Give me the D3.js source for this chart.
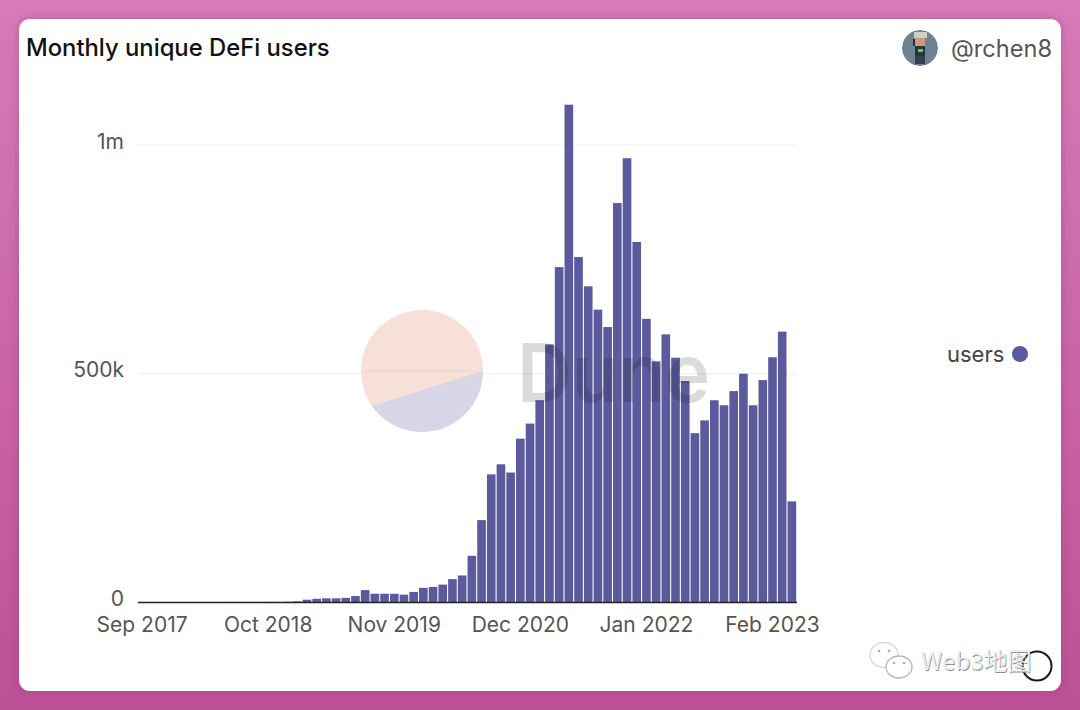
<!DOCTYPE html>
<html>
<head>
<meta charset="utf-8">
<script src="https://d3js.org/d3.v7.min.js"></script>
<style>
  body { margin: 0; background: #c9669f; }
  svg { display: block; }
  text { font-family: "Inter", "Noto Sans", sans-serif; }
</style>
</head>
<body>
<svg id="chart" width="1080" height="710"></svg>
<script>
    var months = [
        "Sep 2017", "Oct 2017", "Nov 2017", "Dec 2017",
        "Jan 2018", "Feb 2018", "Mar 2018", "Apr 2018", "May 2018", "Jun 2018",
        "Jul 2018", "Aug 2018", "Sep 2018", "Oct 2018", "Nov 2018", "Dec 2018",
        "Jan 2019", "Feb 2019", "Mar 2019", "Apr 2019", "May 2019", "Jun 2019",
        "Jul 2019", "Aug 2019", "Sep 2019", "Oct 2019", "Nov 2019", "Dec 2019",
        "Jan 2020", "Feb 2020", "Mar 2020", "Apr 2020", "May 2020", "Jun 2020",
        "Jul 2020", "Aug 2020", "Sep 2020", "Oct 2020", "Nov 2020", "Dec 2020",
        "Jan 2021", "Feb 2021", "Mar 2021", "Apr 2021", "May 2021", "Jun 2021",
        "Jul 2021", "Aug 2021", "Sep 2021", "Oct 2021", "Nov 2021", "Dec 2021",
        "Jan 2022", "Feb 2022", "Mar 2022", "Apr 2022", "May 2022", "Jun 2022",
        "Jul 2022", "Aug 2022", "Sep 2022", "Oct 2022", "Nov 2022", "Dec 2022",
        "Jan 2023", "Feb 2023", "Mar 2023", "Apr 2023"
    ];

    var users = [
        100, 100, 100, 100, 100, 100, 100, 100, 100, 200,
        200, 200, 200, 300, 300, 500, 1500, 5000, 7000, 8000,
        8000, 9000, 13000, 26000, 18000, 18000, 18000, 16000, 22000, 31000,
        33000, 38000, 50000, 58000, 101000, 179000, 279000, 301000, 283000, 357000,
        390000, 441000, 563000, 732000, 1087000, 754000, 690000, 639000, 601000, 872000,
        970000, 787000, 619000, 526000, 585000, 534000, 483000, 369000, 397000, 441000,
        430000, 461000, 499000, 430000, 485000, 535000, 591000, 220000
    ];

    var xTickLabels = ["Sep 2017", "Oct 2018", "Nov 2019", "Dec 2020", "Jan 2022", "Feb 2023"];
    var yTicks = [0, 500000, 1000000];
    var yTickLabels = ["0", "500k", "1m"];

    var title = "Monthly unique DeFi users";
    var author = "@rchen8";
    var seriesName = "users";
    var barColor = "#5b5a9d";
    var textColor = "#555555";

    var svg = d3.select("#chart");
    var defs = svg.append("defs");

    var bg = defs.append("linearGradient").attr("id", "bg")
        .attr("x1", 0).attr("y1", 0).attr("x2", 0).attr("y2", 1);
    bg.append("stop").attr("offset", "0%").attr("stop-color", "#d67bb7");
    bg.append("stop").attr("offset", "100%").attr("stop-color", "#bd5196");

    defs.append("filter").attr("id", "cardShadow")
        .attr("x", "-5%").attr("y", "-5%").attr("width", "110%").attr("height", "110%")
        .append("feDropShadow")
        .attr("dx", 0).attr("dy", 0).attr("stdDeviation", 5)
        .attr("flood-color", "#7a2a60").attr("flood-opacity", 0.35);

    svg.append("rect").attr("width", 1080).attr("height", 710).attr("fill", "url(#bg)");
    svg.append("rect")
        .attr("x", 19).attr("y", 19).attr("width", 1042).attr("height", 672)
        .attr("rx", 11)
        .attr("fill", "#fff")
        .attr("filter", "url(#cardShadow)");

    // header
    svg.append("text").attr("x", 26).attr("y", 56)
        .attr("font-size", 23.8).attr("font-weight", 500).attr("fill", "#111")
        .text(title);
    svg.append("text").attr("x", 951).attr("y", 57)
        .attr("font-size", 23.6).attr("fill", textColor)
        .text(author);

    // avatar, a small pixel figure
    var avatar = svg.append("g").attr("transform", "translate(920,48)");
    defs.append("clipPath").attr("id", "avatarClip")
        .append("circle").attr("r", 18);
    var inner = avatar.append("g").attr("clip-path", "url(#avatarClip)");
    inner.append("circle").attr("r", 18).attr("fill", "#6f8290");
    inner.append("rect").attr("x", -6).attr("y", -16).attr("width", 13).attr("height", 6).attr("fill", "#cfcfca");
    inner.append("rect").attr("x", -5).attr("y", -10).attr("width", 10).attr("height", 8).attr("fill", "#c99a80");
    inner.append("rect").attr("x", -7).attr("y", -9).attr("width", 2).attr("height", 7).attr("fill", "#2c2c2c");
    inner.append("rect").attr("x", -5).attr("y", -2).attr("width", 10).attr("height", 10).attr("fill", "#2a343f");
    inner.append("rect").attr("x", -2).attr("y", 1).attr("width", 5).attr("height", 3).attr("fill", "#6fc46a");
    inner.append("rect").attr("x", -5).attr("y", 8).attr("width", 10).attr("height", 8).attr("fill", "#353f55");

    // scales
    var x = d3.scaleBand().domain(months).range([137.5, 796.5]).paddingInner(0.11).paddingOuter(0.03);
    var y = d3.scaleLinear().domain([0, 1000000]).range([602, 144.5]);

    // y axis with gridlines
    var yAxis = d3.axisLeft(y)
        .tickValues(yTicks)
        .tickSize(-(797 - 138))
        .tickFormat(function(d, i) { return yTickLabels[i]; });

    var yG = svg.append("g").attr("transform", "translate(138,0)").call(yAxis);
    yG.select(".domain").remove();
    yG.selectAll(".tick line").attr("stroke", "#eeeeee");
    yG.selectAll(".tick text")
        .attr("x", -14).attr("dy", "0.17em")
        .attr("font-size", 21).attr("fill", textColor)
        .style("font-family", "Inter, 'Noto Sans', sans-serif");

    // bars
    svg.append("g").selectAll("rect")
        .data(users)
        .enter()
        .append("rect")
        .attr("x", function(d, i) { return x(months[i]); })
        .attr("width", x.bandwidth())
        .attr("y", function(d) { return y(d); })
        .attr("height", function(d) { return y(0) - y(d); })
        .attr("fill", barColor);

    // x axis
    var xAxis = d3.axisBottom(x)
        .tickValues(xTickLabels)
        .tickSize(0)
        .tickPadding(15);

    var xG = svg.append("g").attr("transform", "translate(0,602)").call(xAxis);
    xG.select(".domain").attr("stroke", "#222").attr("stroke-width", 1.4);
    xG.selectAll(".tick text")
        .attr("font-size", 21).attr("fill", textColor)
        .style("font-family", "Inter, 'Noto Sans', sans-serif");

    // legend
    svg.append("text").attr("x", 947).attr("y", 362)
        .attr("font-size", 22).attr("fill", "#444")
        .text(seriesName);
    svg.append("circle").attr("cx", 1020).attr("cy", 354).attr("r", 8).attr("fill", barColor);

    // Dune watermark: circle split by a straight chord
    var logoR = 61;
    var chordA = 0, chordB = 145 * Math.PI / 180;
    var logo = svg.append("g").attr("transform", "translate(422,371)");
    logo.append("circle").attr("r", logoR).attr("fill", "#f6e0d8");
    var seg = d3.path();
    seg.arc(0, 0, logoR, chordA, chordB);
    seg.closePath();
    logo.append("path").attr("d", seg.toString()).attr("fill", "#d6d6e6");
    logo.append("line")
        .attr("x1", -logoR).attr("x2", logoR)
        .attr("stroke", "#000").attr("stroke-opacity", 0.04);

    svg.append("text").attr("x", 517).attr("y", 402)
        .attr("font-size", 81).attr("font-weight", 600)
        .attr("textLength", 193).attr("lengthAdjust", "spacingAndGlyphs")
        .attr("fill", "#000").attr("fill-opacity", 0.14)
        .text("Dune");

    // WeChat mark, bottom right
    var wm = svg.append("g");
    wm.append("circle").attr("cx", 1037).attr("cy", 666).attr("r", 14.5)
        .attr("fill", "none").attr("stroke", "#1a1a1a").attr("stroke-width", 2);
    wm.append("text").attr("x", 921.8).attr("y", 670.8)
        .attr("font-size", 24).attr("fill", "#8f8f8f")
        .style("font-family", "'Noto Sans CJK SC', sans-serif")
        .text("Web3地图");
    wm.append("text").attr("x", 921).attr("y", 670)
        .attr("font-size", 24).attr("fill", "#ededed")
        .style("font-family", "'Noto Sans CJK SC', sans-serif")
        .text("Web3地图");

    var bubbles = [[884, 655, 14, 12.5, "#d8d8d8"], [899, 667, 13, 11, "#b5b5b5"]];
    bubbles.forEach(function(b) {
        wm.append("ellipse").attr("cx", b[0]).attr("cy", b[1]).attr("rx", b[2]).attr("ry", b[3])
            .attr("fill", "#fff").attr("stroke", b[4]).attr("stroke-width", 1.3);
    });
    var eyes = [[879, 651], [889, 651], [894, 663], [904, 663]];
    eyes.forEach(function(p) {
        wm.append("circle").attr("cx", p[0]).attr("cy", p[1]).attr("r", 1.3).attr("fill", "#aaa");
    });
</script>
</body>
</html>
